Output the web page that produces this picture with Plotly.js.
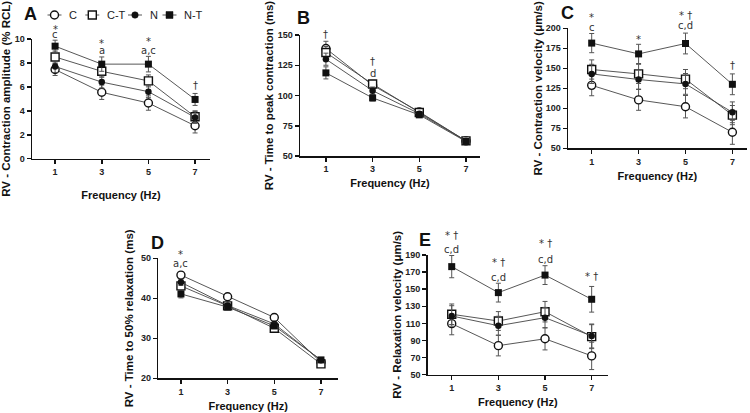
<!DOCTYPE html>
<html>
<head>
<meta charset="utf-8">
<script src="https://cdn.plot.ly/plotly-3.0.1.min.js"></script>
<style>
  html, body { margin: 0; padding: 0; background: #fff; }
  #chart { width: 750px; height: 413px; }
</style>
</head>
<body>
<div id="chart"></div>
<script>
// Stimulation frequencies (Hz)
const freq = [1, 3, 5, 7];
const freqTicks = ['1', '3', '5', '7'];
const groups = ['C', 'C-T', 'N', 'N-T'];

// A - Contraction amplitude (% RCL), mean and SEM
const ampC = [7.45, 5.55, 4.65, 2.75];
const ampCsem = [0.5, 0.6, 0.6, 0.6];
const ampCT = [8.5, 7.3, 6.5, 3.5];
const ampCTsem = [0.5, 0.5, 0.5, 0.5];
const ampN = [7.7, 6.4, 5.6, 3.45];
const ampNsem = [0.5, 0.5, 0.5, 0.5];
const ampNT = [9.4, 7.9, 7.9, 4.95];
const ampNTsem = [0.5, 0.6, 0.65, 0.5];

// B - Time to peak contraction (ms)
const ttpC = [138.8, 108.5, 86.5, 62.5];
const ttpCsem = [6, 3, 1.5, 1.5];
const ttpCT = [135.5, 109.5, 86, 62.5];
const ttpCTsem = [5, 3, 1.5, 1.5];
const ttpN = [130, 104, 85, 62.5];
const ttpNsem = [5, 3, 1.5, 1.5];
const ttpNT = [118.7, 98, 84, 62];
const ttpNTsem = [5, 2.5, 1.5, 1.5];

// C - Contraction velocity (µm/s)
const cvC = [128.7, 110.5, 102, 70];
const cvCsem = [13, 13, 14, 15];
const cvCT = [148.5, 143, 136.5, 91.5];
const cvCTsem = [12, 12, 12, 12];
const cvN = [143, 136, 130.5, 95];
const cvNsem = [12, 12, 13, 13];
const cvNT = [181.5, 168, 181, 130];
const cvNTsem = [12, 12, 13, 13];

// D - Time to 50% relaxation (ms)
const t50C = [45.8, 40.4, 35.2, 24.0];
const t50Csem = [0.8, 0.5, 0.8, 0.5];
const t50CT = [43.1, 38.1, 32.5, 23.6];
const t50CTsem = [0.8, 0.5, 0.7, 0.5];
const t50N = [44.0, 38.2, 33.6, 24.5];
const t50Nsem = [0.8, 0.5, 0.7, 0.5];
const t50NT = [41.1, 37.8, 33.1, 24.6];
const t50NTsem = [1.0, 0.5, 0.7, 0.5];

// E - Relaxation velocity (µm/s)
const rvC = [109.7, 84, 92, 72];
const rvCsem = [13, 12, 13, 16];
const rvCT = [120.7, 112.8, 123.7, 94.5];
const rvCTsem = [12, 11, 12, 14];
const rvN = [118.7, 107.3, 116.7, 95.3];
const rvNsem = [12, 11, 12, 14];
const rvNT = [176.4, 146, 166.5, 138.2];
const rvNTsem = [13, 11, 11, 15];

// Significance marks: [frequency, height in data units, text]
const sigA = [[1, 10.8, '*'], [1, 10.35, 'c'], [3, 9.6, '*'], [3, 9.02, 'a'],
              [5, 9.78, '*'], [5, 9.0, 'a,c'], [7, 6.13, '†']];
const sigB = [[1, 150.1, '†'], [3, 128.1, '†'], [3, 118.2, 'd']];
const sigC = [[1, 213.7, '*'], [1, 200.8, 'c'], [3, 185.4, '*'],
              [5, 216.6, '* †'], [5, 203.3, 'c,d'], [7, 153.3, '†']];
const sigD = [[1, 51.0, '*'], [1, 48.6, 'a,c']];
const sigE = [[1, 212.3, '* †'], [1, 195.9, 'c,d'], [3, 181.5, '* †'], [3, 163.5, 'c,d'],
              [5, 202.9, '* †'], [5, 184.2, 'c,d'], [7, 164.7, '* †']];

const W = 750, H = 413;
const px = x => x / W;
const py = y => 1 - y / H;
const FONT = 'Liberation Sans, Arial, sans-serif';
const MARKFONT = 'DejaVu Sans, Liberation Sans, sans-serif';

const styles = {
  'C':   { symbol: 'circle', size: 8,   color: '#ffffff', lw: 1.4 },
  'C-T': { symbol: 'square', size: 8,   color: '#ffffff', lw: 1.4 },
  'N':   { symbol: 'circle', size: 6.5, color: '#111111', lw: 0 },
  'N-T': { symbol: 'square', size: 7,   color: '#111111', lw: 0 }
};

function series(name, y, sem, n) {
  const s = styles[name];
  const xa = n === 1 ? 'x' : 'x' + n;
  const ya = n === 1 ? 'y' : 'y' + n;
  return {
    type: 'scatter', mode: 'lines+markers', name: name, showlegend: false,
    x: freq, y: y, xaxis: xa, yaxis: ya,
    line: { color: '#444', width: 0.9 },
    marker: { symbol: s.symbol, size: s.size, color: s.color,
              line: { color: '#111', width: s.lw } },
    error_y: { type: 'data', array: sem, visible: true, color: '#555',
               thickness: 1, width: 2.5 },
    cliponaxis: false
  };
}

const panels = [
  { n: 1, data: [[ampC, ampCsem], [ampCT, ampCTsem], [ampN, ampNsem], [ampNT, ampNTsem]],
    sig: sigA, title: 'RV - Contraction amplitude (% RCL)', letter: 'A',
    xd: [32, 210], yd: [158.7, 39], xr: [0.01, 7.64], yr: [0, 10], dt: 2,
    lab: [30, 14], xstand: 15, ystand: 3 },
  { n: 2, data: [[ttpC, ttpCsem], [ttpCT, ttpCTsem], [ttpN, ttpNsem], [ttpNT, ttpNTsem]],
    sig: sigB, title: 'RV - Time to peak contraction (ms)', letter: 'B',
    xd: [300, 480], yd: [156, 35], xr: [-0.11, 7.6], yr: [50, 150], dt: 25,
    lab: [303, 18], xstand: 6, ystand: 1 },
  { n: 3, data: [[cvC, cvCsem], [cvCT, cvCTsem], [cvN, cvNsem], [cvNT, cvNTsem]],
    sig: sigC, title: 'RV - Contraction velocity (μm/s)', letter: 'C',
    xd: [568, 746.7], yd: [148.3, 28.3], xr: [-0.01, 7.61], yr: [50, 200], dt: 25,
    lab: [567, 13], xstand: 6, ystand: 0 },
  { n: 4, data: [[t50C, t50Csem], [t50CT, t50CTsem], [t50N, t50Nsem], [t50NT, t50NTsem]],
    sig: sigD, title: 'RV - Time to 50% relaxation (ms)', letter: 'D',
    xd: [158.3, 338], yd: [378.3, 258.3], xr: [0.03, 7.73], yr: [20, 50], dt: 10,
    lab: [157, 243], xstand: 6, ystand: 5 },
  { n: 5, data: [[rvC, rvCsem], [rvCT, rvCTsem], [rvN, rvNsem], [rvNT, rvNTsem]],
    sig: sigE, title: 'RV - Relaxation velocity (μm/s)', letter: 'E',
    xd: [427.7, 608], yd: [374.7, 255], xr: [-0.03, 7.7], yr: [50, 190], dt: 20,
    lab: [425, 240], xstand: 6, ystand: 1 }
];

const traces = [];
const layout = {
  width: W, height: H,
  margin: { l: 0, r: 0, t: 0, b: 0 },
  paper_bgcolor: '#ffffff', plot_bgcolor: 'rgba(0,0,0,0)',
  showlegend: false,
  font: { family: FONT, color: '#111' },
  annotations: [], shapes: []
};

const axisBase = {
  showline: true, linecolor: '#111', linewidth: 1.5,
  ticks: 'outside', ticklen: 4, tickwidth: 1.5, tickcolor: '#111',
  showgrid: false, zeroline: false, fixedrange: true,
  tickfont: { family: FONT, size: 9, color: '#222', weight: 'bold' }
};

panels.forEach(p => {
  p.data.forEach((d, i) => traces.push(series(groups[i], d[0], d[1], p.n)));
  const xk = p.n === 1 ? 'xaxis' : 'xaxis' + p.n;
  const yk = p.n === 1 ? 'yaxis' : 'yaxis' + p.n;
  const xa = p.n === 1 ? 'x' : 'x' + p.n;
  const ya = p.n === 1 ? 'y' : 'y' + p.n;
  const xdom = [px(p.xd[0]), px(p.xd[1])];
  const ydom = [py(p.yd[0]), py(p.yd[1])];
  layout[xk] = Object.assign({}, axisBase, {
    domain: xdom, range: p.xr, anchor: ya,
    tickmode: 'array', tickvals: freq, ticktext: freqTicks,
    title: { text: 'Frequency (Hz)', standoff: p.xstand,
             font: { family: FONT, size: 11, color: '#111', weight: 'bold' } }
  });
  layout[yk] = Object.assign({}, axisBase, {
    domain: ydom, range: p.yr, anchor: xa,
    tickmode: 'linear', tick0: p.yr[0], dtick: p.dt,
    title: { text: p.title, standoff: p.ystand,
             font: { family: FONT, size: 11.5, color: '#111', weight: 'bold' } }
  });
  // significance marks sit above the axis range, so place them on the paper
  // using the panel's own y scale
  const yToPaper = v => ydom[0] + (v - p.yr[0]) / (p.yr[1] - p.yr[0]) * (ydom[1] - ydom[0]);
  p.sig.forEach(s => layout.annotations.push({
    x: s[0], y: yToPaper(s[1]), xref: xa, yref: 'paper', text: s[2], showarrow: false,
    font: { family: MARKFONT, size: 10, color: '#333' }, xanchor: 'center', yanchor: 'middle'
  }));
  layout.annotations.push({
    x: px(p.lab[0]), y: py(p.lab[1]), xref: 'paper', yref: 'paper', text: p.letter,
    showarrow: false, xanchor: 'center', yanchor: 'middle',
    font: { family: FONT, size: 18, color: '#111', weight: 'bold' }
  });
});

// Group key above panel A
const keyItems = [
  { name: 'C',   cx: 54.5, tx: 67 },
  { name: 'C-T', cx: 92.3, tx: 105 },
  { name: 'N',   cx: 135,  tx: 147.5 },
  { name: 'N-T', cx: 169.5, tx: 182 }
];
const keyY = 15;
keyItems.forEach(k => {
  const s = styles[k.name];
  layout.shapes.push({ type: 'line', xref: 'paper', yref: 'paper',
    x0: px(k.cx - 7), x1: px(k.cx + 7), y0: py(keyY), y1: py(keyY),
    line: { color: '#444', width: 0.9 } });
  const r = s.size / 2;
  layout.shapes.push({ type: s.symbol === 'circle' ? 'circle' : 'rect',
    xref: 'paper', yref: 'paper',
    x0: px(k.cx - r), x1: px(k.cx + r), y0: py(keyY + r), y1: py(keyY - r),
    fillcolor: s.color, line: { color: '#111', width: s.lw > 0 ? s.lw : 0.5 } });
  layout.annotations.push({ x: px(k.tx), y: py(keyY), xref: 'paper', yref: 'paper',
    text: k.name, showarrow: false, xanchor: 'left', yanchor: 'middle',
    font: { family: FONT, size: 11, color: '#222' } });
});

Plotly.newPlot('chart', traces, layout, { staticPlot: true, displayModeBar: false });
</script>
</body>
</html>
